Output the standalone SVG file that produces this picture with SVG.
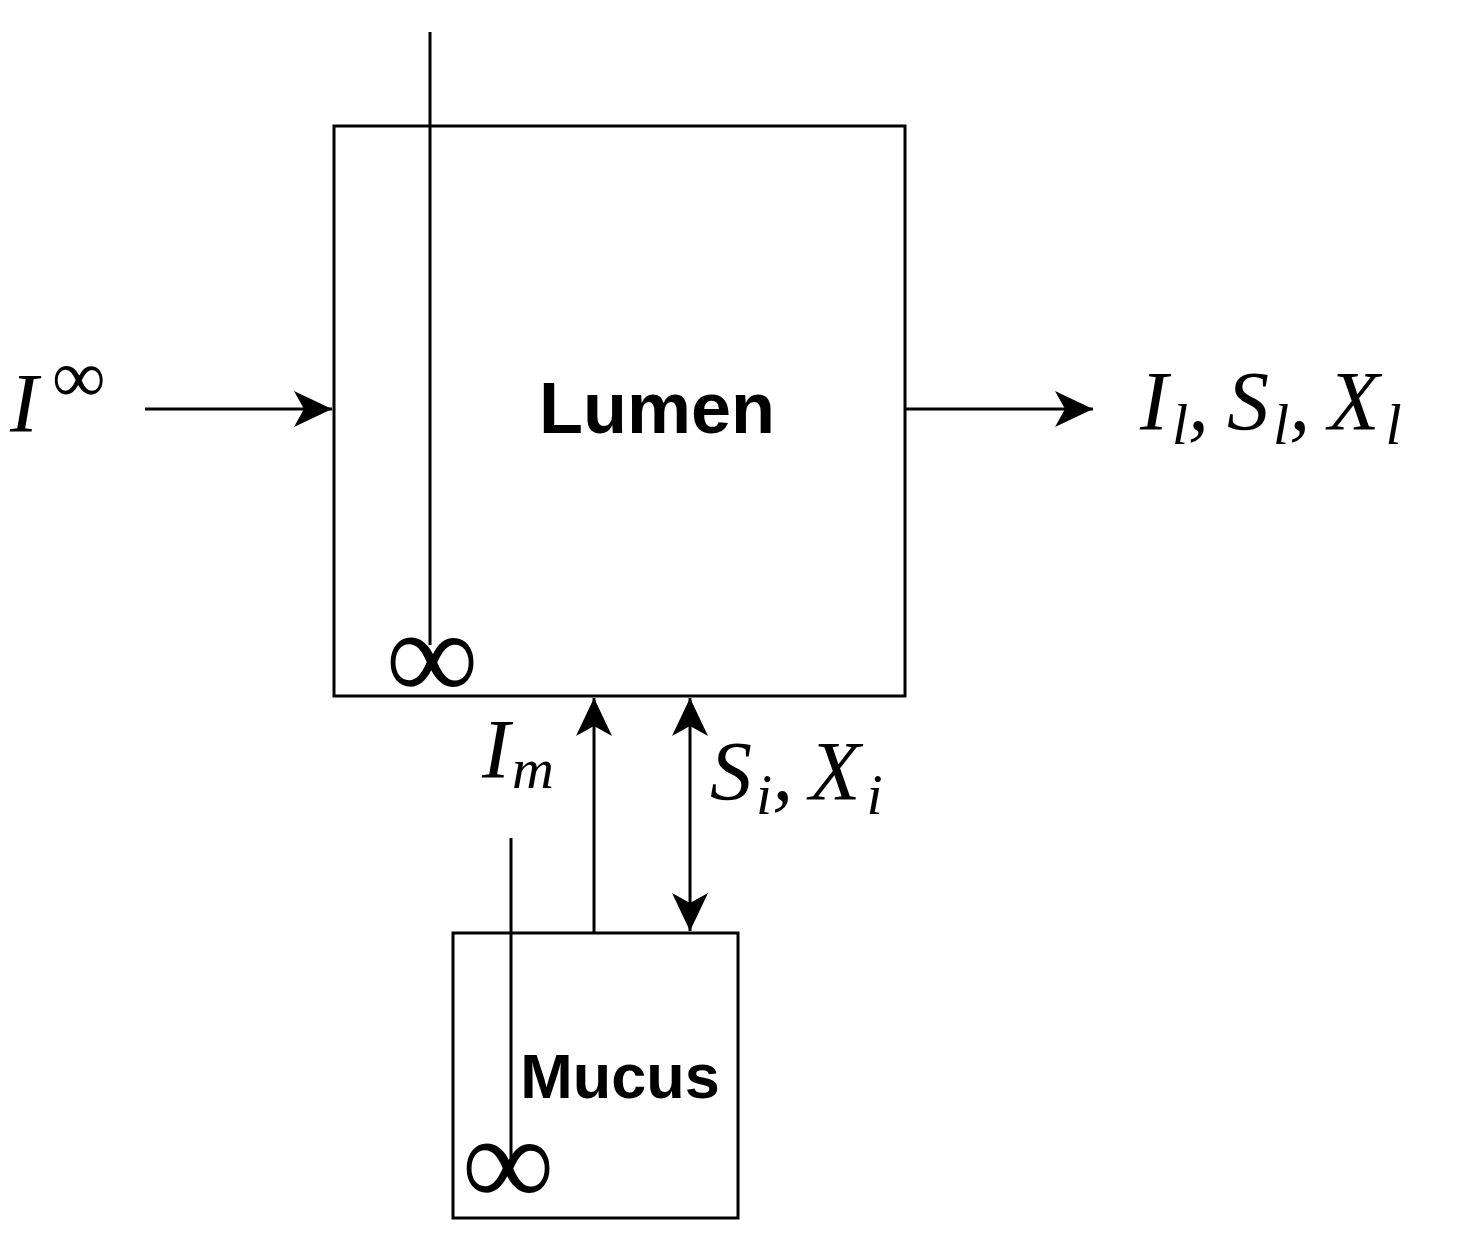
<svg xmlns="http://www.w3.org/2000/svg" width="1481" height="1233" viewBox="0 0 1481 1233">
<style>
.box{fill:#fff;stroke:#000;stroke-width:3}
.ln{stroke:#000;stroke-width:3;fill:none}
.m{font-family:"Liberation Serif",serif;font-style:italic;font-size:84px}
.b{font-family:"Liberation Sans",Arial,sans-serif;font-weight:bold;text-anchor:middle}
.inf{font-family:"Liberation Serif",serif;font-size:130px;text-anchor:middle}
</style>
<defs><marker id="b" markerWidth="40" markerHeight="40" refX="38" refY="20" orient="auto-start-reverse" markerUnits="userSpaceOnUse" viewBox="0 0 40 40"><path d="M0,2 L38,20 L0,38 L10,20 Z" fill="#000"/></marker></defs>
<g id="lumen"><rect class="box" x="334" y="126" width="571" height="570"/><line class="ln" x1="430" y1="32" x2="430" y2="645"/><text class="inf" x="432" y="700">∞</text><text class="b" x="657" y="433" font-size="72">Lumen</text></g>
<g id="mucus"><rect class="box" x="453" y="933" width="285" height="285"/><line class="ln" x1="511" y1="838" x2="511" y2="1162"/><text class="inf" x="508" y="1206">∞</text><text class="b" x="620" y="1098" font-size="63">Mucus</text></g>
<g id="connectors">
<line class="ln" x1="145" y1="409" x2="332" y2="409" marker-end="url(#b)"/>
<line class="ln" x1="905" y1="409" x2="1093" y2="409" marker-end="url(#b)"/>
<line class="ln" x1="594" y1="933" x2="594" y2="698" marker-end="url(#b)"/>
<line class="ln" x1="690" y1="698" x2="690" y2="931" marker-start="url(#b)" marker-end="url(#b)"/>
</g>
<g id="labels">
<text class="m" x="10" y="432">I<tspan font-style="normal" font-size="75" dx="14" dy="-30">∞</tspan></text>
<text class="m" x="1140" y="430">I<tspan font-size="58" dx="4" dy="14">l</tspan><tspan dy="-14">,</tspan><tspan dx="18">S</tspan><tspan font-size="58" dx="4" dy="14">l</tspan><tspan dy="-14">,</tspan><tspan dx="18">X</tspan><tspan font-size="58" dx="6" dy="14">l</tspan></text>
<text class="m" x="482" y="778">I<tspan font-size="58" dx="2" dy="10">m</tspan></text>
<text class="m" x="710" y="800">S<tspan font-size="58" dx="4" dy="14">i</tspan><tspan dy="-14">,</tspan><tspan dx="16">X</tspan><tspan font-size="58" dx="6" dy="14">i</tspan></text>
</g>
</svg>
